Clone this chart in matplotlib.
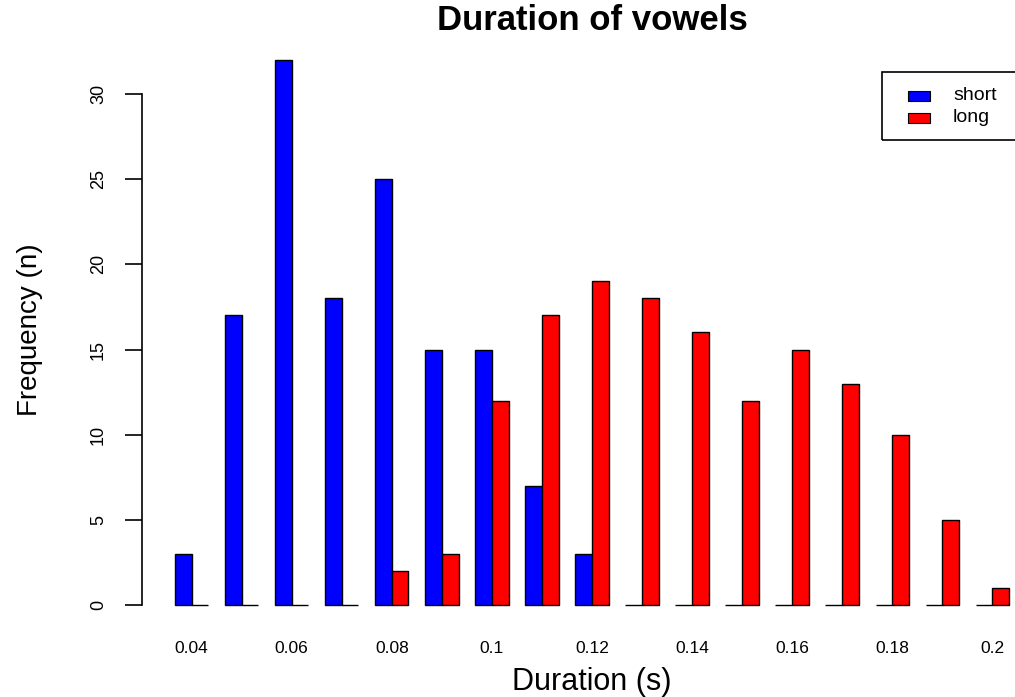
import matplotlib
matplotlib.use("Agg")
import matplotlib.pyplot as plt
from matplotlib.patches import Rectangle
import numpy as np

plt.rcParams['font.family'] = ['Liberation Sans', 'DejaVu Sans']

durations = [0.04, 0.05, 0.06, 0.07, 0.08, 0.09, 0.10, 0.11, 0.12,
             0.13, 0.14, 0.15, 0.16, 0.17, 0.18, 0.19, 0.20]
short_counts = [3, 17, 32, 18, 25, 15, 15, 7, 3, 0, 0, 0, 0, 0, 0, 0, 0]
long_counts = [0, 0, 0, 0, 2, 3, 12, 17, 19, 18, 16, 12, 15, 13, 10, 5, 1]
tick_labels = ["0.04", "0.06", "0.08", "0.1", "0.12", "0.14", "0.16", "0.18", "0.2"]
series_names = ["short", "long"]
colors = ["#0000FF", "#FF0000"]

W, H = 1015, 697
fig = plt.figure(figsize=(W / 100, H / 100), dpi=100)

# plot region (R barplot style); extends past right edge of figure
left_px, right_px = 141.6, 1042.3
top_px, bottom_px = 38.2, 626.8
ax = fig.add_axes([left_px / W, 1 - bottom_px / H,
                   (right_px - left_px) / W, (bottom_px - top_px) / H])

n = len(durations)
idx = np.arange(n)
blue_left = 1 + 3 * idx
red_left = 2 + 3 * idx

ax.bar(blue_left, short_counts, width=1.0, align='edge', color=colors[0],
       edgecolor='black', linewidth=1.0)
ax.bar(red_left, long_counts, width=1.0, align='edge', color=colors[1],
       edgecolor='black', linewidth=1.0)

ax.set_xlim(-1, 53)
ax.set_ylim(-1.28, 33.28)

for s in ['top', 'right', 'bottom']:
    ax.spines[s].set_visible(False)
ax.spines['left'].set_bounds(0, 30)
ax.spines['left'].set_linewidth(1.2)

ax.set_yticks([0, 5, 10, 15, 20, 25, 30])
ax.set_yticklabels(["0", "5", "10", "15", "20", "25", "30"], rotation=90,
                   va='center', fontsize=13)
ax.tick_params(axis='y', direction='out', length=12, width=1.2, pad=13)

centers = 2 + 3 * idx
ax.set_xticks(centers[::2])
ax.set_xticklabels(tick_labels, fontsize=12.5)
ax.tick_params(axis='x', length=0, pad=10)

# legend drawn in data coordinates (pixel -> data helpers)
def px_x(p):
    return (p - 175) / 16.68 + 1

def px_y(p):
    return (605 - p) / 17.03

ax.add_patch(Rectangle((px_x(882), px_y(140)), 53 - px_x(882),
                       px_y(72) - px_y(140),
                       fill=False, edgecolor='black', linewidth=1.2,
                       clip_on=False))
sw_centers = [96, 118]
for i, c in enumerate(colors):
    ax.add_patch(Rectangle((px_x(908), px_y(sw_centers[i] + 5)),
                           px_x(930) - px_x(908), px_y(sw_centers[i] - 5) - px_y(sw_centers[i] + 5),
                           facecolor=c, edgecolor='black', linewidth=0.8,
                           clip_on=False))
for i, name in enumerate(series_names):
    ax.text(px_x(953), px_y(sw_centers[i]), name, fontsize=14,
            va='center', ha='left')

fig.text(592 / W, 1 - 20 / H, "Duration of vowels", fontsize=25,
         fontweight='bold', ha='center', va='center')
fig.text(592 / W, 1 - 682 / H, "Duration (s)", fontsize=22,
         ha='center', va='center')
fig.text(30 / W, 1 - 330 / H, "Frequency (n)", fontsize=20, rotation=90,
         ha='center', va='center')

fig.savefig("out.png", dpi=100)
